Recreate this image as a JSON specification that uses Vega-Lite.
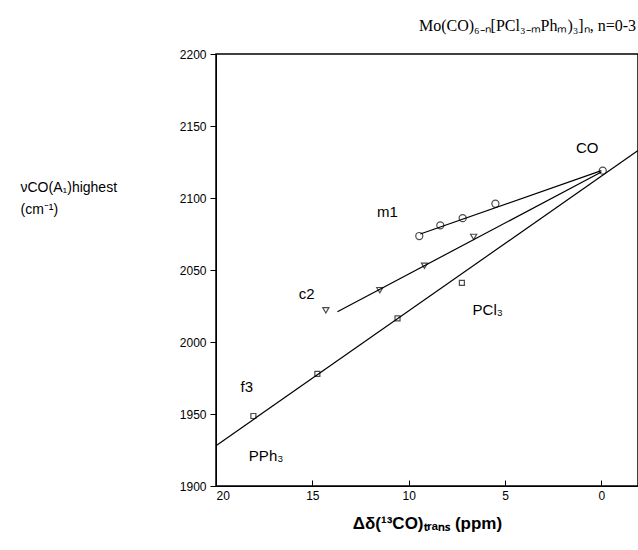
{
  "$schema": "https://vega.github.io/schema/vega-lite/v6.json",
  "width": 422,
  "height": 432,
  "autosize": "none",
  "padding": {"left": 216, "top": 54, "right": 0, "bottom": 64},
  "background": "white",
  "config": {
    "view": {"stroke": "black", "strokeWidth": 1.5},
    "font": "Liberation Sans",
    "axis": {"grid": false, "domainColor": "black", "tickColor": "black", "labelColor": "black", "titleColor": "black", "labelFontSize": 12}
  },
  "title": {
    "text": "Mo(CO)₆₋ₙ[PCl₃₋ₘPhₘ)₃]ₙ, n=0-3",
    "font": "Liberation Serif",
    "fontSize": 16,
    "fontWeight": "normal",
    "anchor": "end",
    "dx": -2,
    "offset": 14
  },
  "layer": [
    {
      "data": {"values": [
        {"s": "m1", "x": 9.4, "y": 2075}, {"s": "m1", "x": 0, "y": 2119},
        {"s": "c2", "x": 13.7, "y": 2021}, {"s": "c2", "x": 0, "y": 2118},
        {"s": "f3", "x": 20, "y": 1928}, {"s": "f3", "x": -1.9, "y": 2133}
      ]},
      "mark": {"type": "line", "color": "black", "strokeWidth": 1.2, "clip": true},
      "encoding": {
        "x": {"field": "x", "type": "quantitative", "scale": {"domain": [20, -1.9], "nice": false},
          "axis": {"values": [20, 15, 10, 5, 0], "tickSize": -6, "labelPadding": 10, "title": "Δδ(¹³CO)ₜᵣₐₙₛ  (ppm)", "titleFontSize": 17, "titleFontWeight": "bold", "titlePadding": 14}},
        "y": {"field": "y", "type": "quantitative", "scale": {"domain": [1900, 2200], "nice": false},
          "axis": {"values": [1900, 1950, 2000, 2050, 2100, 2150, 2200], "format": "d", "tickSize": 6, "labelPadding": 4,
            "title": ["νCO(A₁)highest", "(cm⁻¹)"], "titleAngle": 0, "titleAlign": "left", "titleX": -196, "titleY": 140, "titleFontSize": 14, "titleFontWeight": "normal", "titleLineHeight": 22}},
        "detail": {"field": "s"}
      }
    },
    {
      "data": {"values": [
        {"s": "circle", "x": -0.07, "y": 2119},
        {"s": "circle", "x": 9.45, "y": 2073.6},
        {"s": "circle", "x": 8.36, "y": 2081},
        {"s": "circle", "x": 7.2, "y": 2086},
        {"s": "circle", "x": 5.5, "y": 2096},
        {"s": "tri", "x": 14.3, "y": 2022},
        {"s": "tri", "x": 11.5, "y": 2036},
        {"s": "tri", "x": 9.18, "y": 2053},
        {"s": "tri", "x": 6.63, "y": 2073},
        {"s": "sq", "x": 7.24, "y": 2041},
        {"s": "sq", "x": 10.58, "y": 2016.4},
        {"s": "sq", "x": 14.74, "y": 1977.8},
        {"s": "sq", "x": 18.06, "y": 1948.6}
      ]},
      "mark": {"type": "point", "color": "black", "strokeWidth": 1.2, "filled": false},
      "encoding": {
        "x": {"field": "x", "type": "quantitative"},
        "y": {"field": "y", "type": "quantitative"},
        "shape": {"field": "s", "type": "nominal", "legend": null,
          "scale": {"domain": ["circle", "tri", "sq"], "range": ["circle", "triangle-down", "square"]}},
        "size": {"field": "s", "type": "nominal", "legend": null,
          "scale": {"domain": ["circle", "tri", "sq"], "range": [50, 25, 30]}}
      }
    },
    {
      "data": {"values": [
        {"t": "CO", "x": 0.74, "y": 2135},
        {"t": "m1", "x": 11.1, "y": 2090},
        {"t": "c2", "x": 15.3, "y": 2033},
        {"t": "PCl₃", "x": 5.9, "y": 2022},
        {"t": "f3", "x": 18.4, "y": 1969},
        {"t": "PPh₃", "x": 17.4, "y": 1921}
      ]},
      "mark": {"type": "text", "fontSize": 15, "color": "black"},
      "encoding": {
        "x": {"field": "x", "type": "quantitative"},
        "y": {"field": "y", "type": "quantitative"},
        "text": {"field": "t"}
      }
    }
  ]
}
